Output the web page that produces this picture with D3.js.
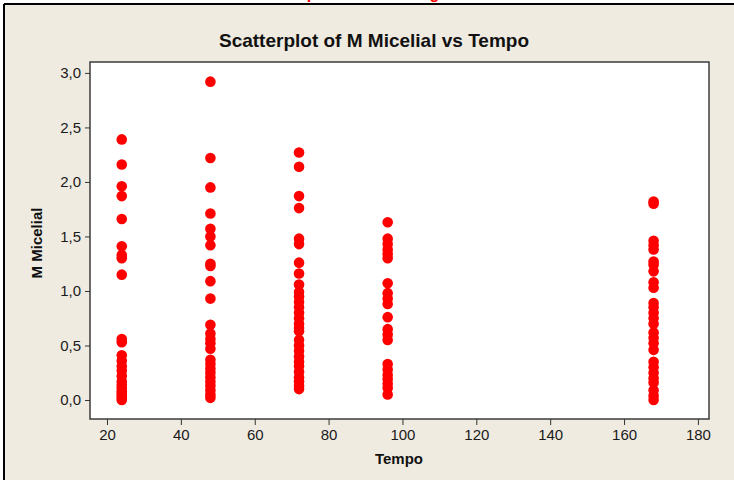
<!DOCTYPE html>
<html lang="pt">
<head>
<meta charset="utf-8">
<title>Scatterplot of M Micelial vs Tempo</title>
<script src="https://cdn.jsdelivr.net/npm/d3@7"></script>
<style>
  html, body { margin: 0; padding: 0; background: #fff; }
  svg { display: block; }
  text { font-family: Arial, "Liberation Sans", sans-serif; }
</style>
</head>
<body>
<script>
// tempos (horas) e valores de M Micelial lidos em cada tempo
var tempos = [24, 48, 72, 96, 168];

var m24 = [2.39, 2.16, 1.96, 1.87, 1.66, 1.41, 1.33, 1.30, 1.15, 0.56, 0.53, 0.41, 0.36,
           0.31, 0.27, 0.22, 0.17, 0.14, 0.11, 0.08, 0.06, 0.04, 0.02, 0.00];
var m48 = [2.92, 2.22, 1.95, 1.71, 1.57, 1.50, 1.42, 1.25, 1.23, 1.09, 0.93, 0.69, 0.61,
           0.56, 0.52, 0.47, 0.37, 0.33, 0.29, 0.25, 0.21, 0.17, 0.13, 0.09, 0.05, 0.02];
var m72 = [2.27, 2.14, 1.87, 1.76, 1.48, 1.43, 1.26, 1.16, 1.06, 0.99, 0.95, 0.90, 0.85,
           0.80, 0.75, 0.70, 0.66, 0.63, 0.55, 0.50, 0.45, 0.40, 0.35, 0.31, 0.26, 0.21,
           0.17, 0.13, 0.10];
var m96 = [1.63, 1.48, 1.43, 1.38, 1.34, 1.30, 1.07, 0.98, 0.93, 0.88, 0.76, 0.65, 0.60,
           0.55, 0.33, 0.28, 0.23, 0.19, 0.15, 0.11, 0.05];
var m168 = [1.82, 1.80, 1.46, 1.42, 1.38, 1.27, 1.24, 1.18, 1.08, 1.03, 0.89, 0.85, 0.80,
            0.75, 0.70, 0.62, 0.57, 0.52, 0.46, 0.35, 0.30, 0.25, 0.20, 0.16, 0.09, 0.04, 0.00];

var xTicks = [20, 40, 60, 80, 100, 120, 140, 160, 180];
var yTicks = [0, 0.5, 1, 1.5, 2, 2.5, 3];

// pares (tempo, valor)
var grupos = [m24, m48, m72, m96, m168];
var dataset = [];
grupos.forEach(function(g, i) {
    g.forEach(function(v) { dataset.push([tempos[i], v]); });
});

var w = 734, h = 480;
// limites da area do grafico ("top" e nome reservado do window)
var pLeft = 90, pRight = 709, pTop = 62, pBottom = 419;

var svg = d3.select("body").append("svg")
    .attr("width", w)
    .attr("height", h);

// fundo bege com moldura preta em cima e a esquerda
svg.append("rect").attr("x", 4).attr("y", 4).attr("width", w - 4).attr("height", h - 4)
    .attr("fill", "#efebe1");
svg.append("line").attr("x1", 4).attr("x2", w).attr("y1", 4).attr("y2", 4)
    .attr("stroke", "#000").attr("stroke-width", 2);
svg.append("line").attr("x1", 4).attr("x2", 4).attr("y1", 4).attr("y2", h)
    .attr("stroke", "#000").attr("stroke-width", 2);

// legenda do documento, cortada pela borda de cima
svg.append("text")
    .attr("x", 379).attr("y", -1)
    .attr("text-anchor", "middle")
    .attr("font-family", "'Liberation Serif', 'Times New Roman', serif")
    .attr("font-weight", "bold")
    .attr("font-size", "16px")
    .attr("fill", "#ff0000")
    .text("Tempo x M Micelial: gráfico");

var xScale = d3.scaleLinear().domain([15.4, 183]).range([pLeft, pRight]);
var yScale = d3.scaleLinear().domain([-0.174, 3.1]).range([pBottom, pTop]);

var virgula = d3.formatLocale({ decimal: ",", thousands: ".", grouping: [3], currency: ["R$", ""] });

// area do grafico
svg.append("rect")
    .attr("x", pLeft).attr("y", pTop)
    .attr("width", pRight - pLeft).attr("height", pBottom - pTop)
    .attr("fill", "#fff")
    .attr("stroke", "#3c3c3c")
    .attr("stroke-width", 1.5);

var xAxis = d3.axisBottom(xScale).tickValues(xTicks).tickSize(6).tickPadding(4)
    .tickFormat(d3.format("d"));
var yAxis = d3.axisLeft(yScale).tickValues(yTicks).tickSize(5).tickPadding(4)
    .tickFormat(virgula.format(".1f"));

var gx = svg.append("g").attr("transform", "translate(0," + pBottom + ")").call(xAxis);
var gy = svg.append("g").attr("transform", "translate(" + pLeft + ",0)").call(yAxis);

[gx, gy].forEach(function(g) {
    g.select(".domain").remove();
    g.selectAll(".tick line").attr("stroke", "#333");
    g.selectAll(".tick text")
        .attr("font-family", "Arial, 'Liberation Sans', sans-serif")
        .attr("font-size", "15px")
        .attr("fill", "#1a1a1a");
});

// pontos
svg.append("g").selectAll("circle")
    .data(dataset)
    .enter()
    .append("circle")
    .attr("cx", function(d) { return xScale(d[0]); })
    .attr("cy", function(d) { return yScale(d[1]); })
    .attr("r", 5.3)
    .attr("fill", "#ff0000");

// titulos
svg.append("text")
    .attr("x", 374).attr("y", 47)
    .attr("text-anchor", "middle")
    .attr("font-weight", "bold")
    .attr("font-size", "19px")
    .attr("fill", "#111")
    .text("Scatterplot of M Micelial vs Tempo");

svg.append("text")
    .attr("x", 399).attr("y", 464)
    .attr("text-anchor", "middle")
    .attr("font-weight", "bold")
    .attr("font-size", "15px")
    .attr("fill", "#111")
    .text("Tempo");

svg.append("text")
    .attr("transform", "translate(42,243) rotate(-90)")
    .attr("text-anchor", "middle")
    .attr("font-weight", "bold")
    .attr("font-size", "15px")
    .attr("fill", "#111")
    .text("M Micelial");
</script>
</body>
</html>
